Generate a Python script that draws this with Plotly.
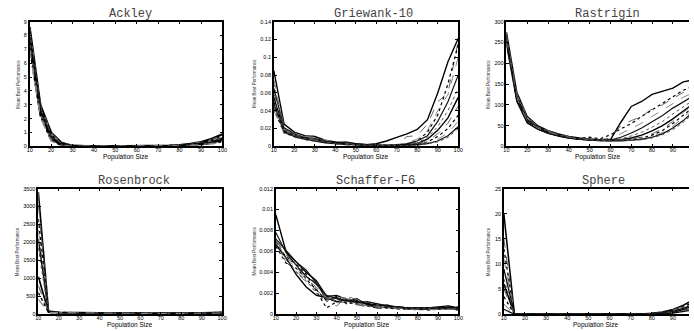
import plotly.graph_objects as go

POP = [10, 15, 20, 25, 30, 35, 40, 45, 50, 55, 60, 65, 70, 75, 80, 85, 90, 95, 100]
X_TICKS = [10, 20, 30, 40, 50, 60, 70, 80, 90, 100]

ACKLEY = [
    [8.6, 3.0, 1.0, 0.25, 0.05, 0.01, 0, 0, 0, 0, 0, 0.01, 0.02, 0.05, 0.10, 0.18, 0.32, 0.55, 0.88],
    [8.5, 2.9, 0.95, 0.22, 0.04, 0.01, 0, 0, 0, 0, 0, 0.01, 0.02, 0.04, 0.09, 0.16, 0.28, 0.48, 0.80],
    [8.3, 2.8, 0.85, 0.18, 0.03, 0, 0, 0, 0, 0, 0, 0.01, 0.02, 0.04, 0.08, 0.14, 0.25, 0.43, 0.72],
    [8.1, 2.7, 0.8, 0.15, 0.02, 0, 0, 0, 0, 0, 0, 0.01, 0.015, 0.035, 0.07, 0.12, 0.22, 0.38, 0.65],
    [7.9, 2.6, 0.7, 0.12, 0.02, 0, 0, 0, 0, 0, 0, 0.005, 0.01, 0.03, 0.06, 0.11, 0.19, 0.33, 0.58],
    [7.7, 2.5, 0.62, 0.1, 0.01, 0, 0, 0, 0, 0, 0, 0.005, 0.01, 0.025, 0.05, 0.10, 0.17, 0.29, 0.52],
    [7.5, 2.4, 0.55, 0.08, 0.01, 0, 0, 0, 0, 0, 0, 0.005, 0.01, 0.02, 0.045, 0.09, 0.15, 0.26, 0.46],
    [7.3, 2.3, 0.5, 0.06, 0.01, 0, 0, 0, 0, 0, 0, 0.004, 0.008, 0.02, 0.04, 0.08, 0.13, 0.23, 0.40],
    [7.1, 2.2, 0.45, 0.05, 0, 0, 0, 0, 0, 0, 0, 0.003, 0.006, 0.015, 0.035, 0.07, 0.12, 0.20, 0.35],
    [7.0, 2.1, 0.4, 0.04, 0, 0, 0, 0, 0, 0, 0, 0.003, 0.005, 0.012, 0.03, 0.06, 0.10, 0.18, 0.30],
]

GRIEWANK = [
    [0.085, 0.025, 0.016, 0.012, 0.011, 0.007, 0.005, 0.004, 0.003, 0.002, 0.003, 0.006, 0.010, 0.014, 0.019, 0.030, 0.060, 0.095, 0.121],
    [0.060, 0.020, 0.013, 0.010, 0.008, 0.006, 0.004, 0.003, 0.002, 0.002, 0.001, 0.001, 0.002, 0.011, 0.012, 0.025, 0.050, 0.060, 0.118],
    [0.050, 0.018, 0.012, 0.009, 0.007, 0.005, 0.004, 0.003, 0.002, 0.001, 0.001, 0.001, 0.001, 0.002, 0.006, 0.016, 0.035, 0.070, 0.114],
    [0.075, 0.022, 0.015, 0.011, 0.012, 0.007, 0.005, 0.004, 0.003, 0.002, 0.001, 0.001, 0.002, 0.004, 0.008, 0.018, 0.040, 0.058, 0.100],
    [0.065, 0.021, 0.014, 0.010, 0.009, 0.006, 0.004, 0.005, 0.003, 0.002, 0.001, 0.001, 0.001, 0.003, 0.006, 0.012, 0.028, 0.050, 0.080],
    [0.070, 0.019, 0.013, 0.011, 0.008, 0.006, 0.004, 0.003, 0.002, 0.002, 0.001, 0.001, 0.001, 0.002, 0.004, 0.010, 0.022, 0.040, 0.065],
    [0.055, 0.017, 0.012, 0.009, 0.007, 0.005, 0.004, 0.003, 0.002, 0.001, 0.001, 0.001, 0.001, 0.002, 0.003, 0.008, 0.018, 0.032, 0.055],
    [0.045, 0.016, 0.011, 0.009, 0.007, 0.005, 0.003, 0.003, 0.002, 0.001, 0.001, 0.001, 0.001, 0.001, 0.003, 0.006, 0.014, 0.026, 0.045],
    [0.042, 0.015, 0.011, 0.008, 0.006, 0.005, 0.003, 0.002, 0.002, 0.001, 0.001, 0.001, 0.001, 0.001, 0.002, 0.005, 0.011, 0.020, 0.035],
    [0.040, 0.015, 0.010, 0.008, 0.006, 0.004, 0.003, 0.002, 0.002, 0.001, 0.001, 0.001, 0.001, 0.001, 0.002, 0.004, 0.008, 0.015, 0.028],
    [0.048, 0.016, 0.011, 0.008, 0.006, 0.004, 0.003, 0.002, 0.002, 0.001, 0.001, 0.001, 0.001, 0.001, 0.002, 0.003, 0.006, 0.012, 0.022],
    [0.052, 0.017, 0.012, 0.009, 0.007, 0.005, 0.003, 0.002, 0.002, 0.001, 0.001, 0.001, 0.001, 0.001, 0.001, 0.003, 0.005, 0.010, 0.020],
]

RASTRIGIN = [
    [275, 130, 72, 50, 38, 30, 24, 20, 18, 16, 16, 58, 96, 108, 125, 133, 140, 155, 160],
    [265, 125, 68, 48, 36, 29, 23, 19, 17, 16, 20, 50, 62, 72, 90, 100, 115, 130, 140],
    [260, 120, 65, 46, 35, 28, 22, 19, 22, 18, 28, 42, 55, 72, 88, 105, 120, 135, 145],
    [255, 118, 63, 45, 34, 27, 22, 18, 16, 15, 18, 30, 42, 56, 72, 88, 104, 118, 130],
    [250, 115, 62, 44, 33, 26, 21, 18, 16, 15, 15, 22, 32, 44, 58, 74, 92, 108, 122],
    [258, 112, 60, 43, 32, 26, 21, 17, 15, 14, 14, 18, 25, 34, 46, 60, 78, 96, 112],
    [262, 110, 58, 42, 32, 25, 20, 17, 15, 14, 14, 16, 20, 27, 37, 50, 66, 85, 103],
    [270, 128, 70, 49, 37, 29, 23, 19, 17, 15, 14, 15, 18, 22, 30, 42, 60, 82, 100],
    [268, 122, 66, 47, 36, 28, 22, 19, 16, 15, 14, 14, 16, 20, 27, 38, 55, 76, 95],
    [252, 116, 60, 44, 34, 27, 21, 18, 16, 14, 13, 14, 15, 18, 24, 33, 48, 70, 90],
    [245, 108, 56, 41, 31, 25, 20, 17, 15, 14, 13, 13, 15, 17, 22, 30, 44, 62, 85],
    [272, 126, 69, 48, 36, 28, 22, 18, 16, 14, 13, 13, 14, 16, 20, 28, 40, 58, 80],
]

ROSENBROCK = [
    [3400, 90, 55, 48, 44, 40, 36, 33, 30, 28, 26, 25, 25, 26, 28, 31, 36, 44, 56],
    [3050, 80, 52, 46, 42, 38, 35, 32, 29, 27, 25, 24, 24, 25, 27, 30, 34, 41, 52],
    [2650, 72, 50, 45, 41, 37, 34, 31, 28, 26, 24, 23, 23, 24, 26, 29, 33, 39, 49],
    [2350, 75, 51, 45, 40, 36, 33, 30, 27, 25, 23, 22, 22, 23, 25, 28, 32, 37, 46],
    [2100, 66, 49, 44, 40, 36, 33, 30, 27, 25, 23, 22, 22, 23, 24, 27, 31, 36, 44],
    [1850, 62, 48, 43, 39, 35, 32, 29, 26, 24, 22, 21, 21, 22, 24, 26, 30, 35, 42],
    [1050, 58, 47, 42, 38, 35, 32, 29, 26, 24, 22, 21, 21, 22, 23, 26, 29, 34, 40],
    [800, 70, 50, 44, 40, 36, 33, 30, 27, 25, 23, 22, 22, 22, 24, 27, 30, 35, 43],
    [600, 52, 46, 42, 38, 34, 31, 28, 26, 24, 22, 21, 20, 21, 23, 25, 28, 33, 38],
    [420, 48, 45, 41, 37, 34, 31, 28, 25, 23, 21, 20, 20, 21, 22, 24, 27, 31, 36],
]

SCHAFFER = [
    [0.0095, 0.0060, 0.0050, 0.0040, 0.0032, 0.0017, 0.0018, 0.0014, 0.0012, 0.0010, 0.0009, 0.0008, 0.0007, 0.0006, 0.0006, 0.0006, 0.0007, 0.0008, 0.0006],
    [0.0070, 0.0058, 0.0045, 0.0035, 0.0031, 0.0013, 0.0008, 0.0017, 0.0014, 0.0009, 0.0007, 0.0008, 0.0006, 0.0005, 0.0005, 0.0005, 0.0005, 0.0006, 0.0005],
    [0.0068, 0.0055, 0.0048, 0.0038, 0.0022, 0.0006, 0.0012, 0.0011, 0.0010, 0.0008, 0.0006, 0.0006, 0.0005, 0.0005, 0.0005, 0.0004, 0.0005, 0.0005, 0.0006],
    [0.0066, 0.0052, 0.0042, 0.0030, 0.0025, 0.0015, 0.0019, 0.0013, 0.0009, 0.0011, 0.0010, 0.0007, 0.0006, 0.0006, 0.0005, 0.0006, 0.0006, 0.0005, 0.0005],
    [0.0072, 0.0061, 0.0050, 0.0042, 0.0030, 0.0014, 0.0016, 0.0012, 0.0015, 0.0009, 0.0008, 0.0009, 0.0006, 0.0005, 0.0006, 0.0005, 0.0005, 0.0007, 0.0006],
    [0.0069, 0.0050, 0.0040, 0.0032, 0.0020, 0.0012, 0.0014, 0.0016, 0.0011, 0.0008, 0.0007, 0.0006, 0.0006, 0.0005, 0.0004, 0.0005, 0.0005, 0.0005, 0.0005],
    [0.0067, 0.0054, 0.0038, 0.0026, 0.0018, 0.0016, 0.0012, 0.0014, 0.0012, 0.0010, 0.0006, 0.0007, 0.0007, 0.0006, 0.0005, 0.0005, 0.0006, 0.0006, 0.0004],
    [0.0071, 0.0057, 0.0046, 0.0037, 0.0028, 0.0014, 0.0011, 0.0012, 0.0009, 0.0007, 0.0008, 0.0007, 0.0005, 0.0005, 0.0005, 0.0005, 0.0004, 0.0005, 0.0005],
    [0.0065, 0.0049, 0.0044, 0.0034, 0.0024, 0.0013, 0.0017, 0.0010, 0.0013, 0.0011, 0.0009, 0.0006, 0.0006, 0.0005, 0.0006, 0.0006, 0.0005, 0.0006, 0.0007],
    [0.0068, 0.0056, 0.0043, 0.0033, 0.0026, 0.0016, 0.0013, 0.0015, 0.0010, 0.0008, 0.0006, 0.0007, 0.0006, 0.0005, 0.0005, 0.0004, 0.0005, 0.0005, 0.0005],
    [0.0078, 0.0059, 0.0047, 0.0036, 0.0029, 0.0018, 0.0015, 0.0013, 0.0011, 0.0012, 0.0010, 0.0008, 0.0007, 0.0006, 0.0005, 0.0006, 0.0006, 0.0006, 0.0006],
    [0.0070, 0.0053, 0.0041, 0.0031, 0.0023, 0.0015, 0.0013, 0.0012, 0.0010, 0.0008, 0.0007, 0.0006, 0.0006, 0.0005, 0.0005, 0.0005, 0.0005, 0.0005, 0.0005],
]

SPHERE = [
    [20, 0, 0, 0, 0, 0, 0, 0, 0, 0, 0, 0, 0.01, 0.05, 0.18, 0.45, 0.95, 1.8, 3.0],
    [15, 0, 0, 0, 0, 0, 0, 0, 0, 0, 0, 0, 0.01, 0.04, 0.15, 0.40, 0.85, 1.6, 2.7],
    [13, 0, 0, 0, 0, 0, 0, 0, 0, 0, 0, 0, 0.01, 0.04, 0.13, 0.35, 0.75, 1.45, 2.5],
    [11, 0, 0, 0, 0, 0, 0, 0, 0, 0, 0, 0, 0.005, 0.03, 0.12, 0.30, 0.65, 1.3, 2.3],
    [9, 0, 0, 0, 0, 0, 0, 0, 0, 0, 0, 0, 0.005, 0.03, 0.10, 0.26, 0.58, 1.15, 2.1],
    [7, 0, 0, 0, 0, 0, 0, 0, 0, 0, 0, 0, 0, 0.02, 0.09, 0.22, 0.50, 1.0, 1.9],
    [6, 0, 0, 0, 0, 0, 0, 0, 0, 0, 0, 0, 0, 0.02, 0.08, 0.19, 0.44, 0.9, 1.7],
    [5, 0, 0, 0, 0, 0, 0, 0, 0, 0, 0, 0, 0, 0.02, 0.07, 0.16, 0.38, 0.8, 1.5],
    [3.5, 0, 0, 0, 0, 0, 0, 0, 0, 0, 0, 0, 0, 0.01, 0.06, 0.14, 0.32, 0.7, 1.3],
    [2, 0, 0, 0, 0, 0, 0, 0, 0, 0, 0, 0, 0, 0.01, 0.05, 0.12, 0.27, 0.6, 1.1],
    [1, 0, 0, 0, 0, 0, 0, 0, 0, 0, 0, 0, 0, 0.01, 0.04, 0.10, 0.22, 0.5, 0.9],
]

TITLES = ["Ackley", "Griewank-10", "Rastrigin", "Rosenbrock", "Schaffer-F6", "Sphere"]
X_LABEL = "Population Size"
Y_LABEL = "Mean Best Performance"

STYLES = [
    ("#000000", "solid", 1.4),
    ("#666666", "dash", 1.0),
    ("#000000", "dot", 1.2),
    ("#888888", "dash", 1.0),
    ("#111111", "solid", 1.2),
    ("#555555", "dot", 1.0),
]

W, H = 694, 331

# (data, x0, x1, y_top, y_bottom, xmax, ymax, dtick, title_x, title_y, ylab_x, cut, width_scale)
PANELS = [
    (ACKLEY, 27, 222, 19, 146, 100, 9, 1, 129, 11, 15, False, 1.5),
    (GRIEWANK, 274, 460.5, 19, 146, 100, 0.14, 0.02, 375, 11, 254, False, 1.0),
    (RASTRIGIN, 509.3, 694, 19, 146, 10 + (694 - 509.3) / 21.05 * 10, 300, 50, 612, 11, 490.5, True, 1.0),
    (ROSENBROCK, 35.7, 221.7, 189, 317, 100, 3500, 500, 133, 181, 15, False, 1.2),
    (SCHAFFER, 276, 460.7, 189, 317, 100, 0.012, 0.002, 377, 181, 254, False, 1.0),
    (SPHERE, 506.7, 694, 189, 317, 10 + (694 - 506.7) / 21.375 * 10, 25, 5, 608, 181, 491.5, True, 1.1),
]

fig = go.Figure()
annotations = []
tickfont = dict(family="Liberation Sans", size=5.5, color="#000")

for i, (data, x0, x1, yt, yb, xmax, ymax, dtick, tx, ty, ylx, cut, ws) in enumerate(PANELS):
    k = "" if i == 0 else str(i + 1)
    for j, series in enumerate(data):
        color, dash, width = STYLES[j % len(STYLES)]
        fig.add_trace(go.Scatter(
            x=POP, y=series, mode="lines", xaxis="x" + k, yaxis="y" + k,
            line=dict(color=color, dash=dash, width=width * ws), showlegend=False,
            hoverinfo="skip",
        ))
    xd = [x0 / W, x1 / W]
    yd = [1 - yb / H, 1 - yt / H]
    fig.layout["xaxis" + k] = dict(
        domain=xd, range=[10, xmax], anchor="y" + k, tickvals=X_TICKS,
        ticks="inside", ticklen=3, tickwidth=1, tickcolor="#000",
        showline=True, linecolor="#000", linewidth=1.5, mirror="allticks",
        showgrid=False, zeroline=False, tickfont=tickfont,
        ticklabelstandoff=-3,
    )
    fig.layout["yaxis" + k] = dict(
        domain=yd, range=[0, ymax], anchor="x" + k, dtick=dtick, tick0=0,
        ticks="inside", ticklen=3, tickwidth=1, tickcolor="#000",
        showline=True, linecolor="#000", linewidth=1.5,
        mirror=False if cut else "allticks",
        showgrid=False, zeroline=False, tickfont=tickfont,
    )
    annotations.append(dict(
        text=TITLES[i], x=tx / W, y=1 - ty / H, xref="paper", yref="paper",
        xanchor="center", yanchor="middle", showarrow=False,
        font=dict(family="Liberation Mono", size=12, color="#444"),
    ))
    xc = (x0 + min(x1, x0 + (100 - 10) / (xmax - 10) * (x1 - x0))) / 2
    annotations.append(dict(
        text=X_LABEL, x=xc / W, y=1 - (yb + 10.5) / H, xref="paper", yref="paper",
        xanchor="center", yanchor="middle", showarrow=False,
        font=dict(family="Liberation Sans Narrow, Liberation Sans", size=6.5, color="#000"),
    ))
    annotations.append(dict(
        text=Y_LABEL, x=ylx / W, y=1 - ((yt + yb) / 2) / H, xref="paper", yref="paper",
        xanchor="center", yanchor="middle", showarrow=False, textangle=-90,
        font=dict(family="Liberation Sans", size=4.5, color="#333"),
    ))

fig.update_layout(
    width=W, height=H, margin=dict(l=0, r=0, t=0, b=0),
    paper_bgcolor="white", plot_bgcolor="white",
    annotations=annotations, showlegend=False,
)

fig.write_html(
    "out.html",
    config={"displayModeBar": False},
    post_script="document.body.style.margin='0';document.body.style.overflow='hidden';",
)
